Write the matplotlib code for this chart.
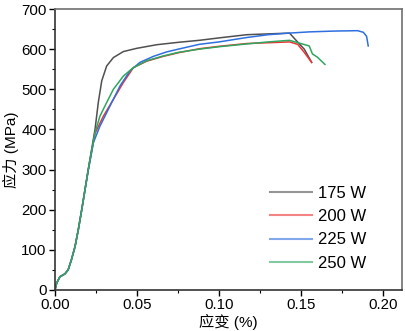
import matplotlib
matplotlib.use("Agg")
import matplotlib.pyplot as plt
from matplotlib.ticker import MultipleLocator

plt.rcParams['font.family'] = ['Liberation Sans', 'Noto Sans CJK SC']

labels = ["175 W", "200 W", "225 W", "250 W"]
colors = ["#505050", "#ee3333", "#2f6fe0", "#2fa660"]

# shared toe of all four curves (strain %, stress MPa)
x_toe = [0, 0.001, 0.003, 0.006, 0.008, 0.010, 0.0122, 0.0142, 0.0163, 0.0183, 0.0203]
y_toe = [0, 17, 33, 40, 50, 75, 108, 150, 200, 250, 300]

x175 = x_toe + [0.0213, 0.0244, 0.0264, 0.0285, 0.0315, 0.0356, 0.0417, 0.0498, 0.062,
                0.0752, 0.088, 0.100, 0.117, 0.130, 0.143, 0.147, 0.152, 0.1565]
y175 = y_toe + [325, 400, 467, 521, 558, 579, 594, 602, 611,
                617, 622, 628, 636, 638, 640, 622, 600, 567]

x200 = x_toe + [0.0213, 0.0244, 0.0295, 0.0356, 0.0417, 0.0478, 0.0559, 0.066, 0.0752,
                0.088, 0.100, 0.117, 0.130, 0.143, 0.148, 0.152, 0.1565]
y200 = y_toe + [322, 390, 433, 475, 517, 554, 570, 582, 591,
                601, 607, 614, 616, 618, 612, 592, 567]

x225 = x_toe + [0.0213, 0.0234, 0.0274, 0.0335, 0.0396, 0.0457, 0.0518, 0.060, 0.068,
                0.0752, 0.088, 0.100, 0.117, 0.130, 0.143, 0.155, 0.170, 0.1845,
                0.188, 0.190, 0.191]
y225 = y_toe + [320, 367, 408, 458, 508, 546, 567, 582, 593,
                600, 612, 618, 629, 636, 640, 643, 645, 646,
                642, 632, 608]

x250 = x_toe + [0.0213, 0.0244, 0.0274, 0.0315, 0.0356, 0.0417, 0.0478, 0.0559, 0.066,
                0.0752, 0.088, 0.100, 0.117, 0.130, 0.143, 0.149, 0.155, 0.157,
                0.160, 0.1646]
y250 = y_toe + [325, 392, 433, 467, 500, 533, 554, 571, 583,
                592, 600, 606, 613, 618, 622, 615, 608, 588,
                580, 562]

series = [(x175, y175), (x200, y200), (x225, y225), (x250, y250)]

fig = plt.figure(figsize=(4.05, 3.31), dpi=100)
ax = fig.add_axes([0.1358, 0.1239, 0.8568, 0.8489])

for (xs, ys), lab, c in zip(series, labels, colors):
    ax.plot(xs, ys, color=c, lw=1.1, label=lab)

ax.set_xlim(0, 0.2116)
ax.set_ylim(0, 700)
ax.xaxis.set_major_locator(MultipleLocator(0.05))
ax.xaxis.set_minor_locator(MultipleLocator(0.025))
ax.yaxis.set_major_locator(MultipleLocator(100))
ax.yaxis.set_minor_locator(MultipleLocator(50))
ax.xaxis.set_major_formatter(plt.FormatStrFormatter('%.2f'))
ax.tick_params(which='major', length=4, width=1, labelsize=10.8, pad=2)
ax.tick_params(which='minor', length=2, width=0.8)
for s in ['left', 'bottom']:
    ax.spines[s].set_color('#333333')
    ax.spines[s].set_linewidth(1.2)
for s in ['top', 'right']:
    ax.spines[s].set_color('#707070')
    ax.spines[s].set_linewidth(1.2)

ax.set_xlabel('应变 (%)', fontsize=11, labelpad=1)
ax.set_ylabel('应力 (MPa)', fontsize=11, labelpad=2)

leg = ax.legend(loc='lower right', frameon=False, fontsize=12, handlelength=2.5,
                handletextpad=0.35, labelspacing=0.5, bbox_to_anchor=(0.94, 0.015))
for line in leg.get_lines():
    line.set_alpha(0.6)
    line.set_linewidth(1.5)

fig.savefig('out.png', dpi=100)
